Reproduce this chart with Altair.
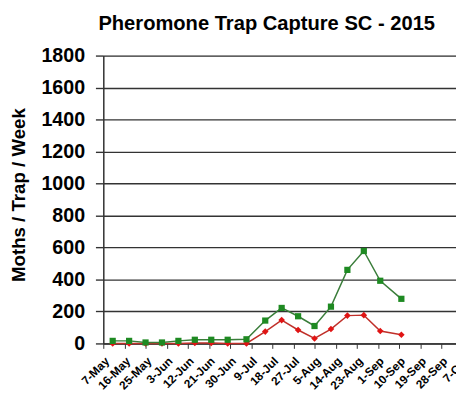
import altair as alt
import pandas as pd

# ---- data ----
dates = ["2015-05-11", "2015-05-18", "2015-05-25", "2015-06-01", "2015-06-08",
         "2015-06-15", "2015-06-22", "2015-06-29", "2015-07-07", "2015-07-15",
         "2015-07-22", "2015-07-29", "2015-08-05", "2015-08-12", "2015-08-19",
         "2015-08-26", "2015-09-02", "2015-09-11"]
green_vals = [16, 16, 6, 6, 16, 23, 23, 23, 26, 143, 222, 170, 109, 230, 460, 578, 392, 279]
red_vals = [0, 0, 0, 0, 0, 3, 3, 0, 0, 74, 146, 84, 31, 90, 174, 177, 78, 54]
y_ticks = [0, 200, 400, 600, 800, 1000, 1200, 1400, 1600, 1800]
tick_days = [(5, 7), (5, 16), (5, 25), (6, 3), (6, 12), (6, 21), (6, 30), (7, 9), (7, 18),
             (7, 27), (8, 5), (8, 14), (8, 23), (9, 1), (9, 10), (9, 19), (9, 28), (10, 7)]
title_text = "Pheromone Trap Capture SC - 2015"
y_title = "Moths / Trap / Week"

df = pd.DataFrame({
    "date": dates * 2,
    "value": green_vals + red_vals,
    "series": ["green"] * len(dates) + ["red"] * len(dates),
})

FONT = "Liberation Sans"
AX = "#333333"

x_vals = [alt.DateTime(year=2015, month=m, date=d, utc=True) for m, d in tick_days]

x_enc = alt.X(
    "date:T",
    scale=alt.Scale(
        type="utc",
        domain=[alt.DateTime(year=2015, month=5, date=7, utc=True),
                alt.DateTime(year=2015, month=10, date=7, utc=True)],
        range=[0, 365.5],
    ),
    axis=alt.Axis(
        values=x_vals,
        labelExpr="utcFormat(datum.value, '%-d-%b')",
        labelAngle=-45,
        labelFont=FONT,
        labelFontSize=12,
        labelFontWeight="bold",
        labelColor="#000000",
        labelPadding=7,
        labelOverlap=False,
        tickSize=5,
        tickColor=AX,
        domainColor=AX,
        domainWidth=1.5,
        grid=False,
        title=None,
    ),
)

y_enc = alt.Y(
    "value:Q",
    scale=alt.Scale(domain=[0, 1800], nice=False),
    axis=alt.Axis(
        values=y_ticks,
        format="d",
        grid=True,
        gridColor=AX,
        gridWidth=1.4,
        domainColor=AX,
        domainWidth=1.5,
        tickColor=AX,
        tickSize=8,
        tickWidth=1.4,
        labelFont=FONT,
        labelFontSize=20,
        labelFontWeight="bold",
        labelColor="#000000",
        labelPadding=11,
        title=None,
    ),
)

base = alt.Chart(df)

red_line = base.transform_filter(alt.datum.series == "red").mark_line(
    color="#c0302a", strokeWidth=1.5).encode(x=x_enc, y=y_enc)
red_pts = base.transform_filter(alt.datum.series == "red").mark_point(
    shape="diamond", filled=True, color="#e01414", size=45, opacity=1).encode(x=x_enc, y=y_enc)
green_line = base.transform_filter(alt.datum.series == "green").mark_line(
    color="#3a7d3a", strokeWidth=1.5).encode(x=x_enc, y=y_enc)
green_pts = base.transform_filter(alt.datum.series == "green").mark_point(
    shape="square", filled=True, color="#1e8a22", size=40, opacity=1).encode(x=x_enc, y=y_enc)

title_layer = alt.Chart(pd.DataFrame({"t": [title_text]})).mark_text(
    align="left", baseline="alphabetic", font=FONT, fontSize=20.5,
    fontWeight="bold", color="#000000").encode(
    text="t:N", x=alt.value(-5), y=alt.value(-26.5))

ytitle_layer = alt.Chart(pd.DataFrame({"t": [y_title]})).mark_text(
    align="center", baseline="middle", angle=270, font=FONT, fontSize=19,
    fontWeight="bold", color="#000000").encode(
    text="t:N", x=alt.value(-86), y=alt.value(142))

chart = alt.layer(red_line, red_pts, green_line, green_pts, title_layer, ytitle_layer).properties(
    width=359,
    height=293,
    autosize=alt.AutoSizeParams(type="none"),
    padding={"left": 97, "top": 45, "right": 0, "bottom": 46},
).configure_view(stroke=None).configure(background="#ffffff")

chart.save("out.html", embed_options={"renderer": "svg", "actions": False})
